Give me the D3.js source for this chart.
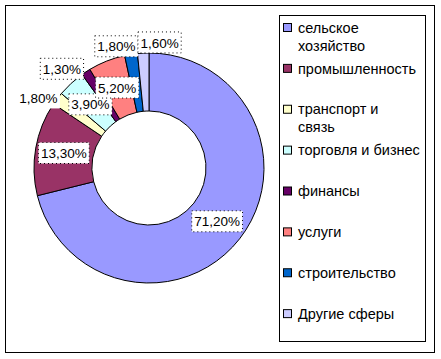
<!DOCTYPE html>
<html><head><meta charset="utf-8">
<script src="https://cdn.jsdelivr.net/npm/d3@7"></script>
<style>body{margin:0;background:#fff}svg{display:block}text{font-family:"Liberation Sans",Arial,sans-serif;fill:#000}</style>
</head><body><svg id="c" width="441" height="359"></svg>
<script>
const categories = ["сельское\nхозяйство","промышленность","транспорт и\nсвязь","торговля и бизнес","финансы","услуги","строительство","Другие сферы"];
const values = [71.2, 13.3, 1.8, 3.9, 1.3, 5.2, 1.8, 1.6];
const colors = ["#9999FF","#993366","#FFFFCC","#CCFFFF","#660066","#FF8080","#0066CC","#CCCCFF"];
// label layout (outside labels for small slices): angle nudge in degrees, radius
const labelLayout = [null, null, [-4.8,131], null, [-8,132], null, [-6,126], [7.7,126]];

const svg = d3.select("#c");
svg.append("rect").attr("x",5.5).attr("y",5.5).attr("width",429).attr("height",347)
  .attr("fill","#fff").attr("stroke","#000");

const cx = 149, cy = 168, R = 115, r0 = 57;
const g = svg.append("g").attr("transform",`translate(${cx},${cy})`);
const pie = d3.pie().sort(null).value(d=>d);
const arcs = pie(values);
const arc = d3.arc().innerRadius(r0).outerRadius(R);
g.selectAll("path").data(arcs).join("path")
  .attr("d",arc).attr("fill",(d,i)=>colors[i]).attr("stroke","#000").attr("stroke-width",1);

const fmt = v => v.toFixed(2).replace(".", ",") + "%";
const mid = (R + r0)/2 + 0.5;
arcs.forEach((d,i)=>{
  let a = (d.startAngle + d.endAngle)/2, rad = mid;
  if (labelLayout[i]) { a += labelLayout[i][0]*Math.PI/180; rad = labelLayout[i][1]; }
  const x = rad*Math.sin(a), y = -rad*Math.cos(a);
  const lg = g.append("g").attr("transform",`translate(${x},${y})`);
  const t = lg.append("text").attr("text-anchor","middle").attr("dy","0.38em")
    .style("font-size","13.5px").text(fmt(values[i]));
  const w = t.node().getComputedTextLength();
  lg.insert("rect","text").attr("x",-w/2-2.5).attr("y",-10.5).attr("width",w+5).attr("height",21)
    .attr("fill","#fff").attr("stroke", i===2 ? "none" : "#000").attr("stroke-dasharray","1,3");
});

// legend
svg.append("rect").attr("x",279.5).attr("y",15.5).attr("width",146).attr("height",326)
  .attr("fill","#fff").attr("stroke","#000");
const ly = d3.scaleBand().domain(categories).range([15,342]);
const items = svg.selectAll("g.li").data(categories).join("g").attr("class","li")
  .attr("transform",d=>`translate(283,${ly(d)+12.5})`);
items.append("rect").attr("x",0.5).attr("y",-4).attr("width",8).attr("height",8)
  .attr("fill",(d,i)=>colors[i]).attr("stroke","#000");
items.each(function(d){
  const t = d3.select(this).append("text").attr("x",15).style("font-size","14.5px");
  d.split("\n").forEach((s,k)=>t.append("tspan").attr("x",15).attr("y",k*18).attr("dy","0.36em").text(s));
});
</script></body></html>
